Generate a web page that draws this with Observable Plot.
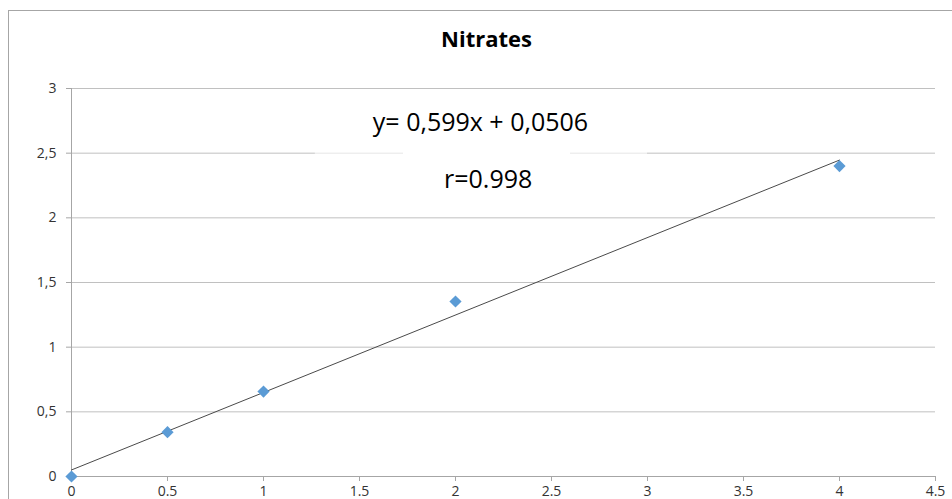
<!DOCTYPE html>
<html><head><meta charset="utf-8">
<script src="https://cdn.jsdelivr.net/npm/d3@7"></script>
<script src="https://cdn.jsdelivr.net/npm/@observablehq/plot@0.6"></script>
<style>
body{margin:0;background:#fff;overflow:hidden;}
#wrap{position:relative;width:952px;height:499px;}
#frame{position:absolute;left:8px;top:10px;width:960px;height:520px;border:1px solid #a6a6a6;box-sizing:border-box;}
#chart{position:absolute;left:0;top:0;}
#chart svg g[aria-label$="tick label"]{font-size:14px !important;font-family:'Open Sans',sans-serif;}
</style></head>
<body><div id="wrap"><div id="frame"></div><div id="chart"></div></div>
<script>
const title = "Nitrates";
const concentration = [0, 0.5, 1, 2, 4];
const absorbance = [0, 0.343, 0.657, 1.353, 2.40];
const slope = 0.599, intercept = 0.0506;
const fitRange = [0, 4];
const xTicks = [0, 0.5, 1, 1.5, 2, 2.5, 3, 3.5, 4, 4.5];
const yTicks = [0, 0.5, 1, 1.5, 2, 2.5, 3];
const equationLabel = "y= 0,599x + 0,0506";
const rLabel = "r=0.998";
const labelPos = [{x: 2.13, y: 2.73, t: equationLabel}, {x: 2.17, y: 2.29, t: rLabel}];
const maskBoxes = [{x1: 1.27, x2: 3.0, y1: 2.46, y2: 2.54, o: 0.6}, {x1: 1.729, x2: 2.599, y1: 2.46, y2: 2.54, o: 1}];

const points = concentration.map((x, i) => ({x, y: absorbance[i]}));
const fit = fitRange.map(x => ({x, y: slope * x + intercept}));

const font = "'Open Sans', sans-serif";
const chart = Plot.plot({
  width: 952, height: 499,
  marginLeft: 71, marginRight: 17, marginTop: 88, marginBottom: 23,
  style: {fontFamily: font, fontSize: "14px", color: "#333", background: "transparent"},
  x: {domain: [0, 4.5], label: null},
  y: {domain: [0, 3], label: null},
  marks: [
    Plot.gridY(yTicks, {stroke: "#c0c0c0", strokeOpacity: 1, strokeWidth: 1}),
    Plot.rect(maskBoxes, {x1: "x1", x2: "x2", y1: "y1", y2: "y2", fill: "white", fillOpacity: d => d.o}),
    Plot.ruleX([0], {stroke: "#a6a6a6"}),
    Plot.ruleY([0], {stroke: "#a6a6a6"}),
    Plot.axisX({ticks: xTicks, tickFormat: d => String(d), tickSize: 5, tickPadding: 5, stroke: "#a6a6a6", fill: "#333", label: null, fontSize: 14}),
    Plot.axisY({ticks: yTicks, tickFormat: d => String(d).replace(".", ","), tickSize: 5, tickPadding: 10, stroke: "#a6a6a6", fill: "#333", label: null, fontSize: 14}),
    Plot.line(fit, {x: "x", y: "y", stroke: "#4a4a4a", strokeWidth: 1}),
    Plot.dot(points, {x: "x", y: "y", symbol: "diamond2", r: 5.5, fill: "#5b9bd5", stroke: "none"}),
    Plot.text(labelPos, {x: "x", y: "y", text: "t", fontSize: 25, fill: "#000", fontFamily: font}),
    Plot.text([title], {frameAnchor: "top", lineAnchor: "middle", dy: -49, dx: -17, fontSize: 22, fontWeight: "bold", fill: "#000", fontFamily: font})
  ]
});
document.getElementById("chart").appendChild(chart);
</script></body></html>
